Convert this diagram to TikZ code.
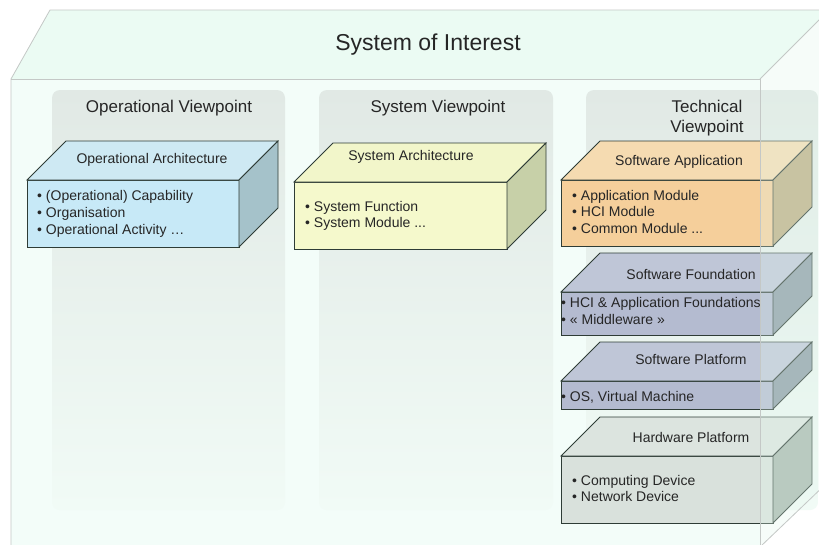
\documentclass[tikz,border=0pt]{standalone}
\usepackage{fontspec}
\setmainfont{Liberation Sans}
\definecolor{sysfront}{HTML}{F3FDF9}
\definecolor{systop}{HTML}{EBFBF3}
\definecolor{sysside}{HTML}{E2F6EC}
\definecolor{syslinec}{HTML}{C4C8C6}
\definecolor{panelTop}{HTML}{E1E9E5}
\definecolor{panelBot}{HTML}{F1FBF6}
\definecolor{boxedge}{HTML}{2E3C36}
\definecolor{txt}{HTML}{262626}
\definecolor{opFront}{HTML}{C7E9F7}
\definecolor{opTop}{HTML}{CEE9F3}
\definecolor{opSide}{HTML}{A5C2CA}
\definecolor{syFront}{HTML}{F5F9CC}
\definecolor{syTop}{HTML}{F2F6CA}
\definecolor{sySide}{HTML}{C7D0A8}
\definecolor{saFront}{HTML}{F5CF9B}
\definecolor{saTop}{HTML}{F5DBB1}
\definecolor{saSide}{HTML}{BDAD83}
\definecolor{sfFront}{HTML}{B4BBD0}
\definecolor{sfTop}{HTML}{BFC6D7}
\definecolor{sfSide}{HTML}{8D9CA6}
\definecolor{hwFront}{HTML}{D9E1DC}
\definecolor{hwTop}{HTML}{DCE4DF}
\definecolor{hwSide}{HTML}{A8B8AE}
\newcommand\blockbox[7]{%
  \filldraw[boxline, fill=#5] (#1,#3) rectangle (#2,#4);
  \filldraw[boxline, fill=#6] (#1,#3) -- ({#1+39},{#3-39}) -- ({#2+39},{#3-39}) -- (#2,#3) -- cycle;
  \filldraw[boxline, fill=#7] (#2,#3) -- ({#2+39},{#3-39}) -- ({#2+39},{#4-39}) -- (#2,#4) -- cycle;
}
\begin{document}
\begin{tikzpicture}[x=1pt,y=-1pt,
  sysline/.style={draw=syslinec, line width=0.8pt},
  boxline/.style={draw=boxedge, line width=0.8pt, line join=miter},
  maintitle/.style={font=\fontsize{23}{27}\selectfont, text=txt, inner sep=0pt, anchor=base},
  vptitle/.style={font=\fontsize{17}{20}\selectfont, text=txt, inner sep=0pt, anchor=base},
  boxtitle/.style={font=\fontsize{14}{17}\selectfont, text=txt, inner sep=0pt, anchor=base},
  bulletline/.style={font=\fontsize{14}{17}\selectfont, text=txt, inner sep=0pt, anchor=base west},
  panel/.style={rounded corners=8pt, top color=panelTop, bottom color=panelBot}]
\useasboundingbox (0,0) rectangle (819,544);
\clip (0,0) rectangle (819,544);
\fill[white] (0,0) rectangle (819,544);
% system of interest: front and top faces
\fill[sysfront] (11,79) rectangle (760,560);
\fill[systop] (11,79) -- (50,10) -- (829,10) -- (760,79) -- cycle;
\draw[sysline] (11,560) -- (11,79) -- (50,10) -- (829,10);
\draw[sysline] (11,79) -- (760,79);
\node[maintitle] (soi) at (428,50) {System of Interest};
% viewpoint panels
\shade[panel] (52,90) rectangle (285,510);
\shade[panel] (319,90) rectangle (553,510);
\shade[panel] (586,90) rectangle (818,510);
\node[vptitle] (opvp) at (169,112.5) {Operational Viewpoint};
\node[vptitle] (syvp) at (438,112.5) {System Viewpoint};
\node[vptitle] (tevp1) at (707,112.3) {Technical};
\node[vptitle] (tevp2) at (707,132.3) {Viewpoint};
% blocks
\blockbox{27}{239}{180}{247}{opFront}{opTop}{opSide}
\node[boxtitle] (opt) at (152,163.3) {Operational Architecture};
\node[bulletline] (op1) at (37,200) {• (Operational) Capability};
\node[bulletline] (op2) at (37,217) {• Organisation};
\node[bulletline] (op3) at (37,234) {• Operational Activity …};
\blockbox{294}{507}{182}{249}{syFront}{syTop}{sySide}
\node[boxtitle] (syt) at (411,160) {System Architecture};
\node[bulletline] (sy1) at (305,211) {• System Function};
\node[bulletline] (sy2) at (305,227.7) {• System Module ...};
\blockbox{561}{773}{180}{246}{saFront}{saTop}{saSide}
\node[boxtitle] (sat) at (679,165.7) {Software Application};
\node[bulletline] (sa1) at (572,200) {• Application Module};
\node[bulletline] (sa2) at (572,216.7) {• HCI Module};
\node[bulletline] (sa3) at (572,233.3) {• Common Module ...};
\blockbox{561}{773}{292}{335}{sfFront}{sfTop}{sfSide}
\node[boxtitle] (sft) at (691,279.3) {Software Foundation};
\node[bulletline] (sf1) at (561,307.7) {• HCI \& Application Foundations};
\node[bulletline] (sf2) at (561,324.3) {• « Middleware »};
\blockbox{561}{773}{381}{409}{sfFront}{sfTop}{sfSide}
\node[boxtitle] (spt) at (691,364) {Software Platform};
\node[bulletline] (sp1) at (561,401) {• OS, Virtual Machine};
\blockbox{561}{773}{456}{523}{hwFront}{hwTop}{hwSide}
\node[boxtitle] (hwt) at (691,442.3) {Hardware Platform};
\node[bulletline] (hw1) at (572,485) {• Computing Device};
\node[bulletline] (hw2) at (572,501.7) {• Network Device};
% system of interest: translucent right face on top
\fill[sysside, fill opacity=0.3] (760,79) -- (829,10) -- (829,481) -- (760,547) -- cycle;
\draw[sysline] (760,79) -- (829,10);
\draw[sysline] (760,547) -- (829,481);
\draw[sysline] (760,79) -- (760,560);
\end{tikzpicture}
\end{document}
